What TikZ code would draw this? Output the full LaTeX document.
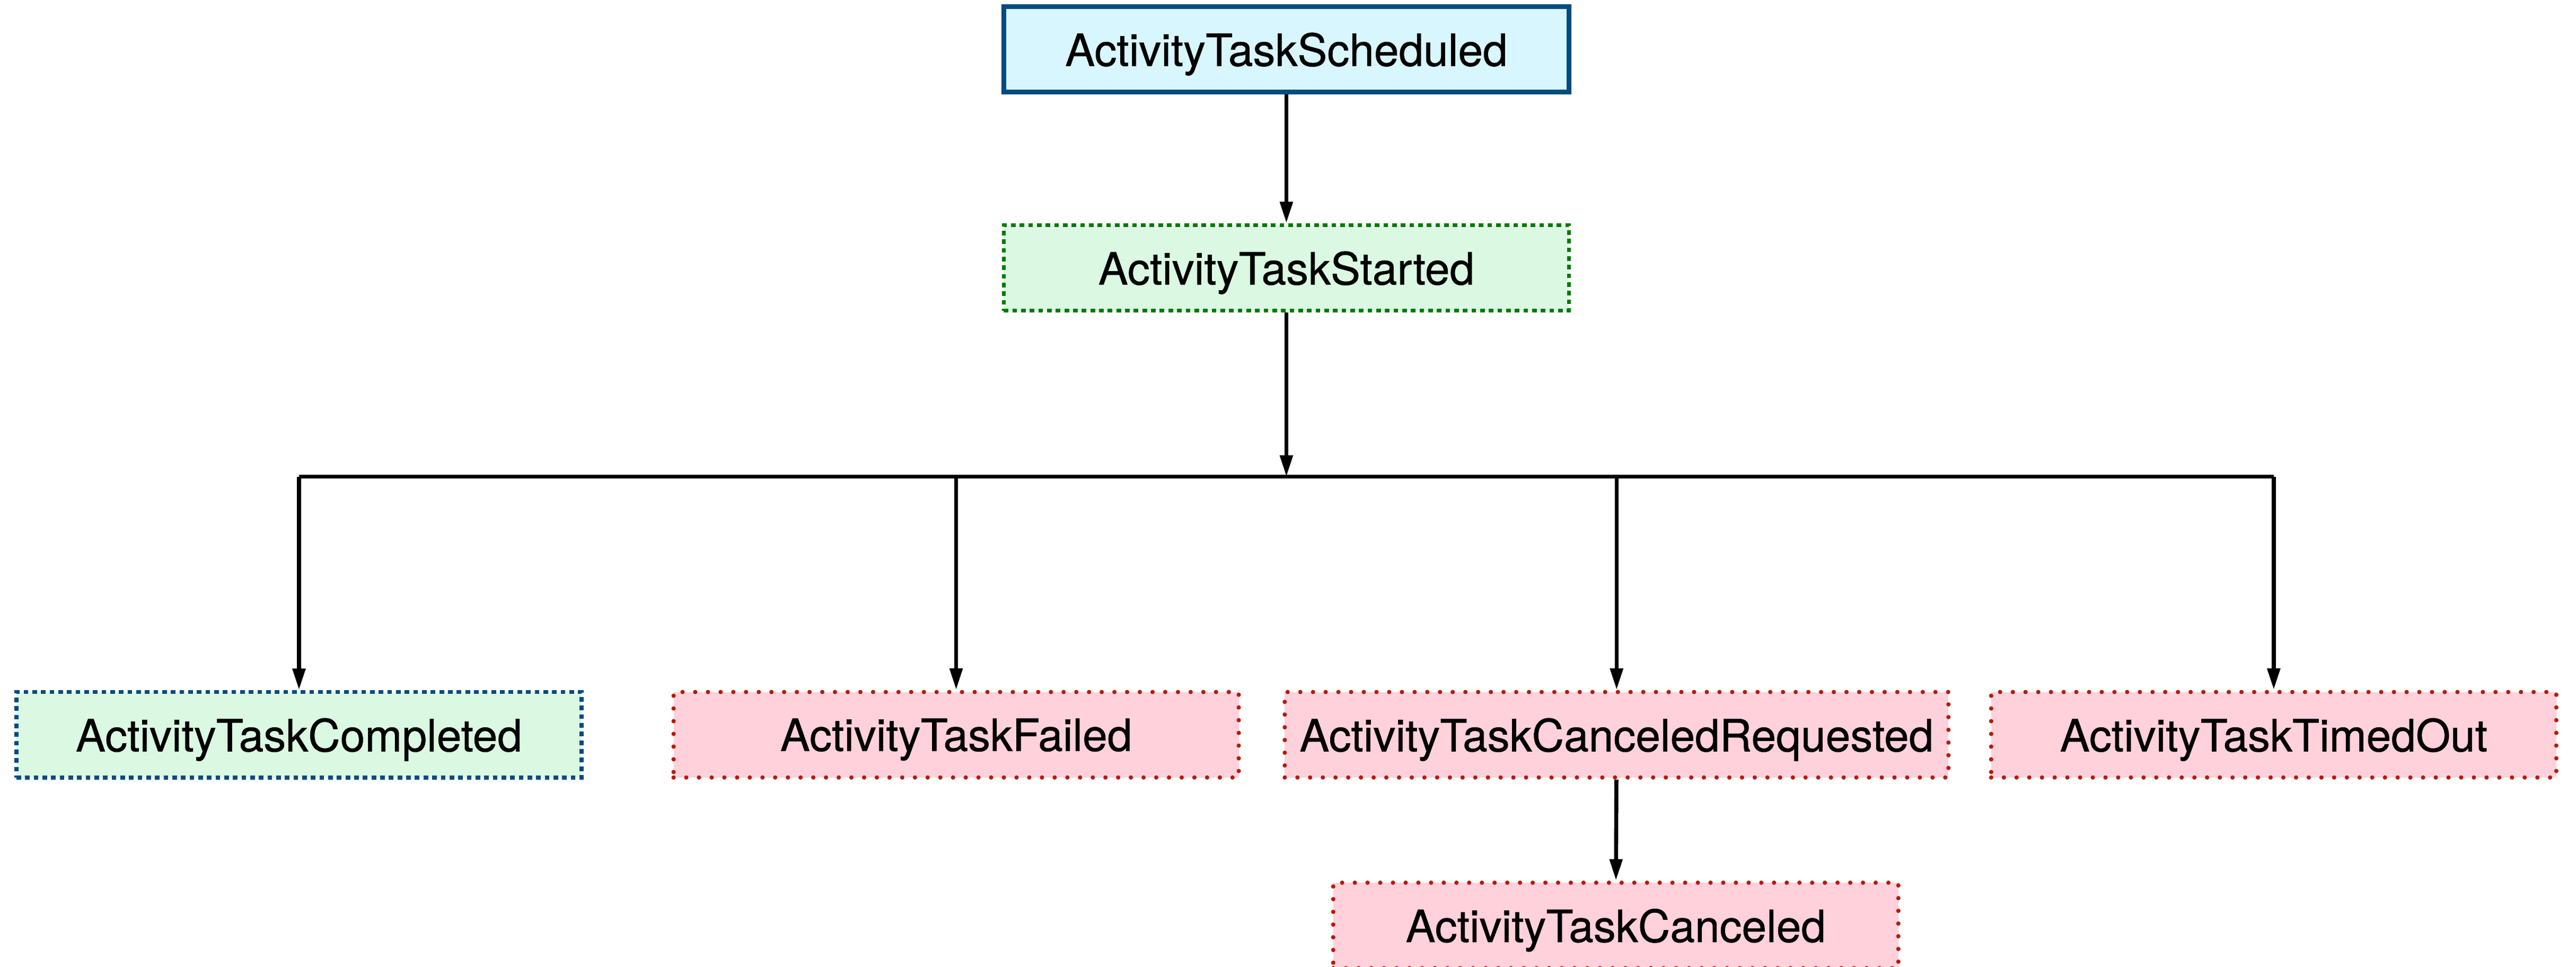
\documentclass[tikz,border=0pt]{standalone}
\usepackage{fontspec}
\setmainfont{TeX Gyre Heros}[BoldFont={TeX Gyre Heros}, BoldFeatures={FakeBold=0.7}]
\usepackage{tikz}
\usetikzlibrary{arrows.meta,positioning}
\definecolor{schedfill}{HTML}{D8F6FD}
\definecolor{schedline}{HTML}{004C7F}
\definecolor{okfill}{HTML}{DAF8E2}
\definecolor{okline}{HTML}{007A00}
\definecolor{failfill}{HTML}{FFD1DB}
\definecolor{failline}{HTML}{B81A0A}

\begin{document}
\begin{tikzpicture}[
  event/.style={minimum height=1.04cm, minimum width=6.88cm, inner sep=0pt, text depth=0pt, font=\fontsize{15.4}{18}\selectfont\bfseries},
  scheduled/.style={event, draw=schedline, fill=schedfill, line width=1.7pt},
  okbox/.style={event, fill=okfill, line width=1.4pt, dash pattern=on 1.6pt off 1.4pt},
  failbox/.style={event, fill=failfill, draw=failline, line width=1.5pt, line cap=round, dash pattern=on 0pt off 4.4pt},
  flow/.style={-{Triangle[length=0.26cm,width=0.15cm]}, line width=1.4pt}
]
\useasboundingbox (0,0) rectangle (31.36,11.76);

\node[scheduled] (sched) at (15.66,11.16) {ActivityTaskScheduled};
\node[okbox, draw=okline] (started) at (15.66,8.5) {ActivityTaskStarted};
\coordinate (bar) at (15.66,5.96);

\node[okbox, draw=schedline] (completed) at (3.64,2.82) {ActivityTaskCompleted};
\node[failbox] (failed) at (11.64,2.82) {ActivityTaskFailed};
\node[failbox, minimum width=8.08cm] (cancelreq) at (19.68,2.82) {ActivityTaskCanceledRequested};
\node[failbox] (timedout) at (27.68,2.82) {ActivityTaskTimedOut};
\node[failbox] (canceled) at (19.67,0.5) {ActivityTaskCanceled};

\draw[flow] (sched) -- (started);
\draw[flow] (started) -- (bar);
\draw[line width=1.4pt] (completed |- bar) -- (timedout |- bar);
\foreach \n in {completed,failed,cancelreq,timedout}
  \draw[flow] (\n |- bar) -- (\n);
\draw[flow] (cancelreq) -- (canceled);
\end{tikzpicture}
\end{document}
